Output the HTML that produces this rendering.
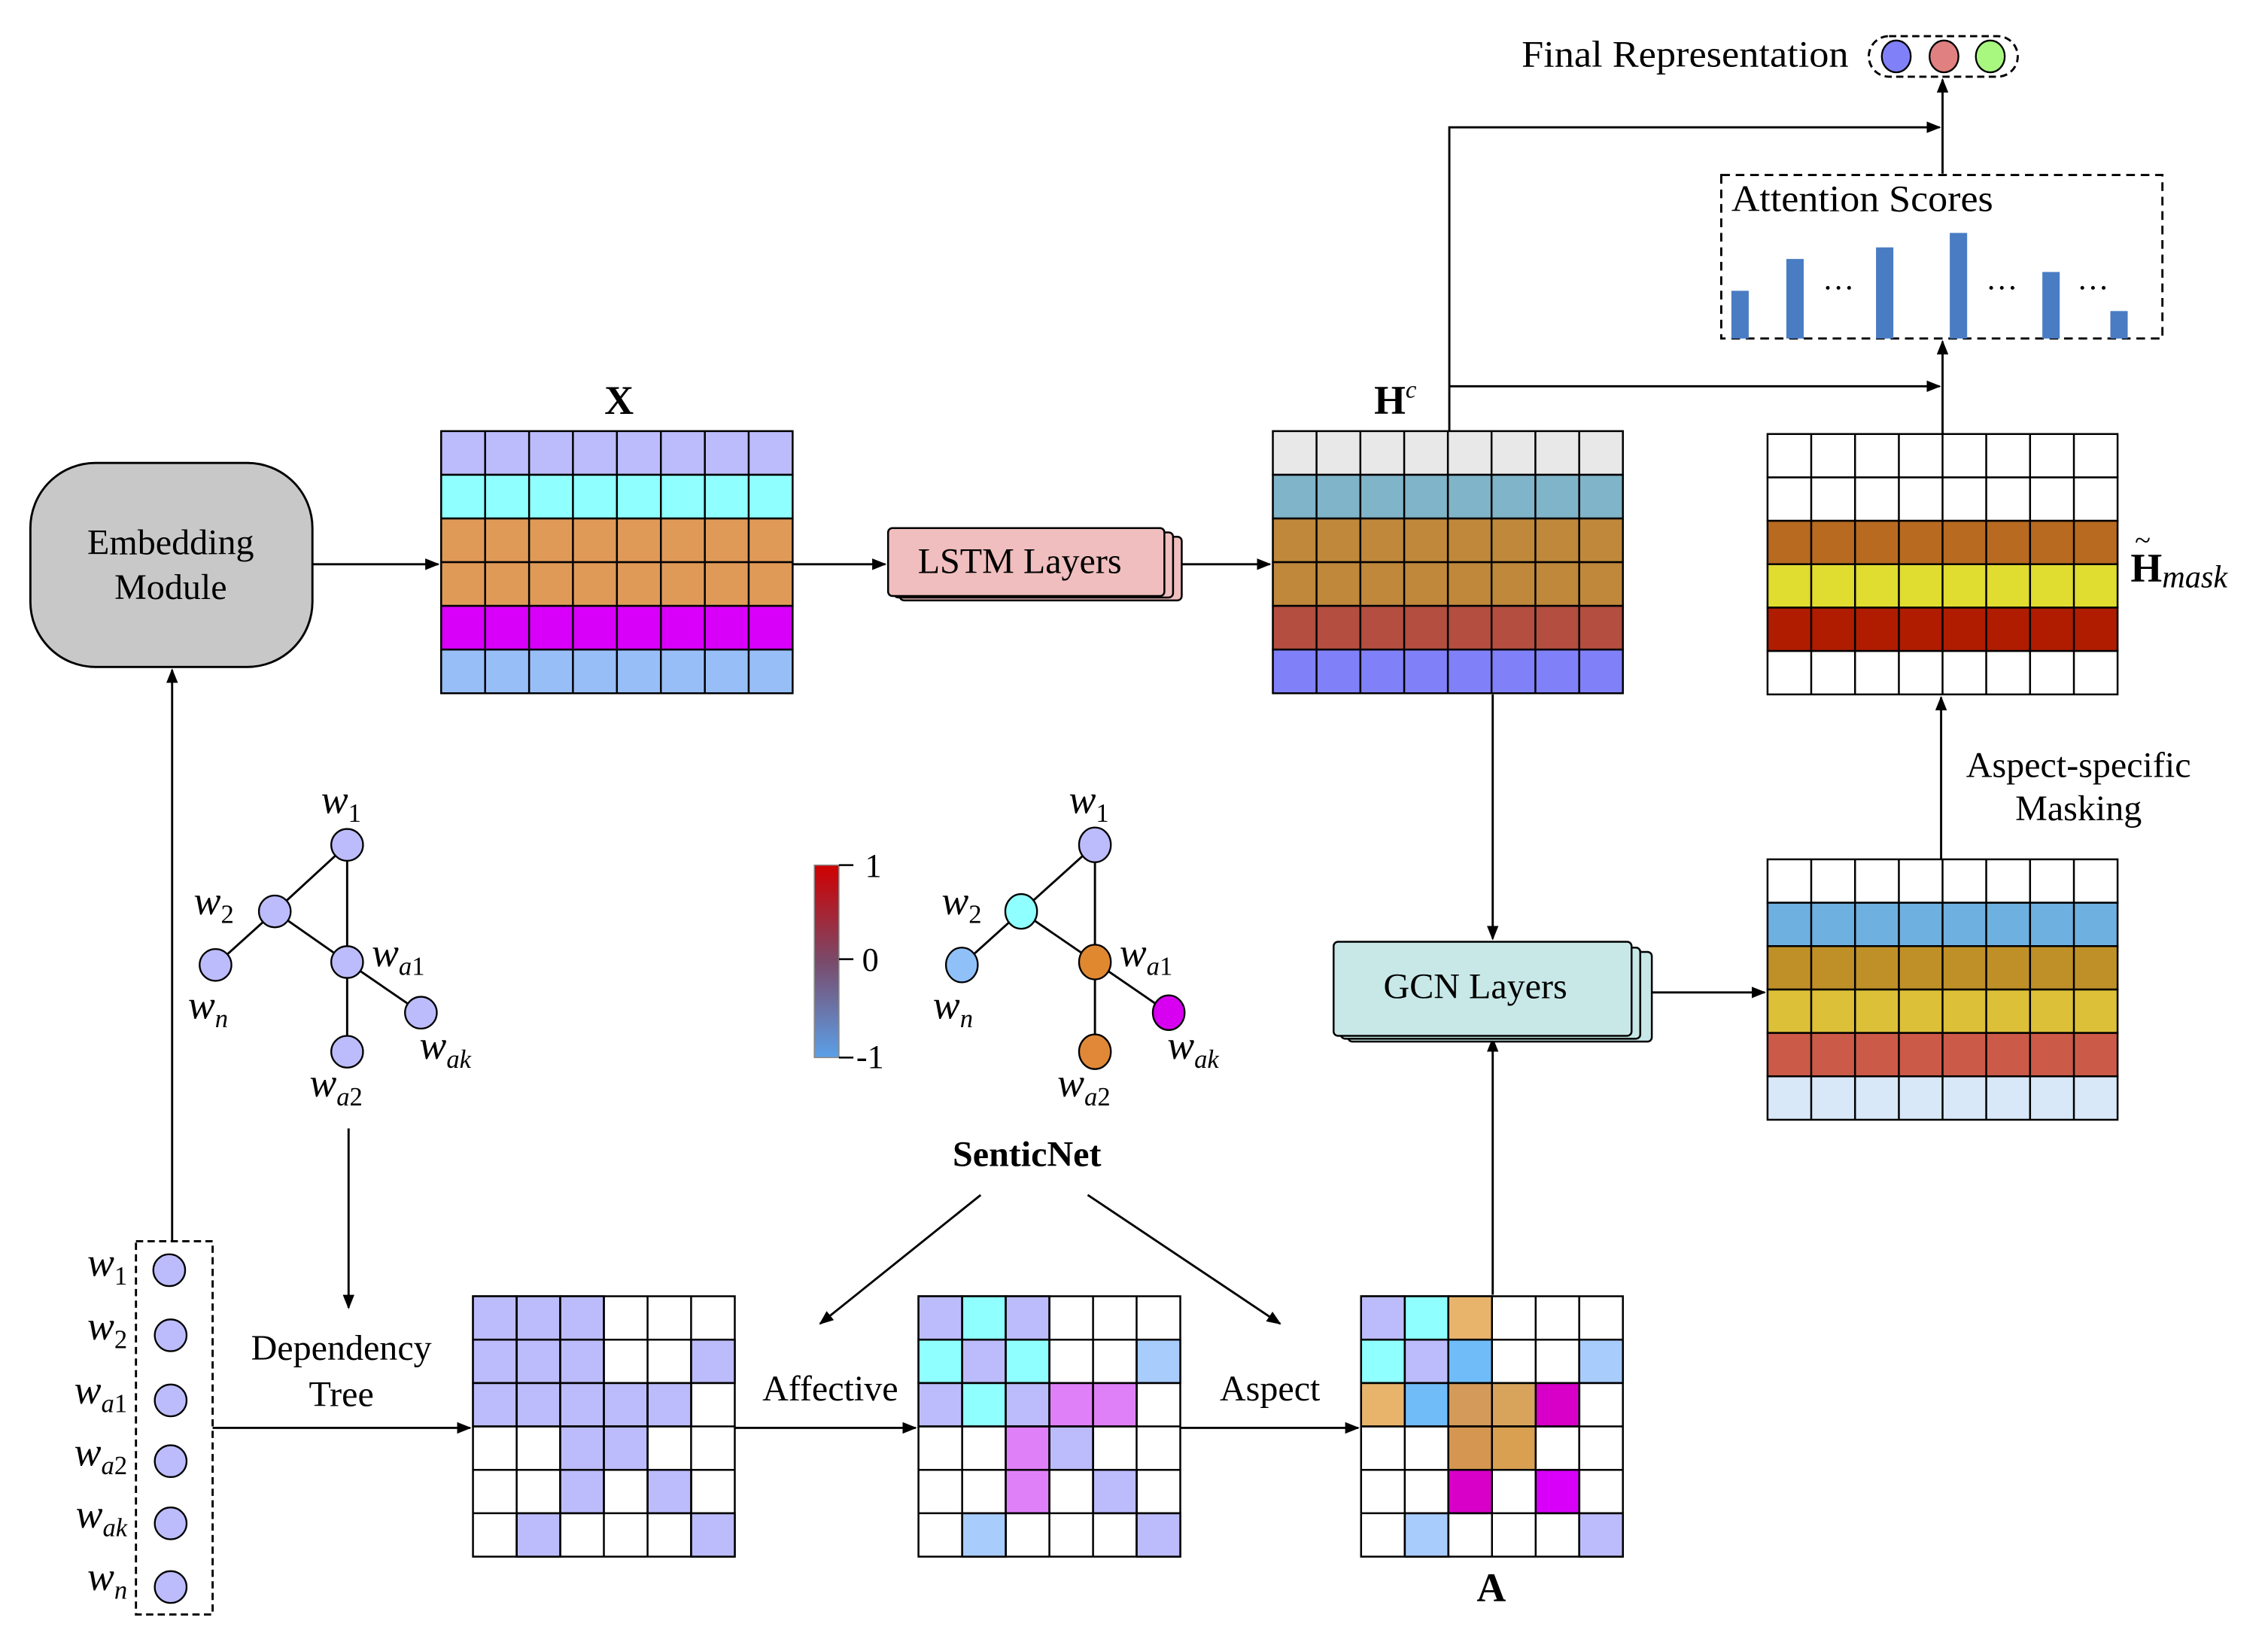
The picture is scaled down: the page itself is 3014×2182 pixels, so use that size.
<!DOCTYPE html>
<html><head><meta charset="utf-8"><style>
html,body{margin:0;padding:0;background:#fff;}
svg{display:block;}
text{font-family:"Liberation Serif",serif;fill:#000;}
.m{font-style:italic;}
</style></head><body>
<svg width="3014" height="2182" viewBox="0 0 1568 1135" preserveAspectRatio="none" xmlns="http://www.w3.org/2000/svg">
<defs>
<marker id="ar" markerWidth="10" markerHeight="8" refX="9" refY="4" orient="auto" markerUnits="userSpaceOnUse"><path d="M0,0 L10,4 L0,8 Z" fill="#000"/></marker>
<linearGradient id="cb" x1="0" y1="0" x2="0" y2="1"><stop offset="0" stop-color="#d00000"/><stop offset="0.5" stop-color="#7a4a6a"/><stop offset="1" stop-color="#5aa0e8"/></linearGradient>
</defs>
<g stroke="#000" stroke-width="1.5" fill="none">
<line x1="1343" y1="120" x2="1343" y2="55" marker-end="url(#ar)"/>
<polyline points="1002,298 1002,88 1341,88" marker-end="url(#ar)"/>
<line x1="1002" y1="267" x2="1341" y2="267" marker-end="url(#ar)"/>
<line x1="1343" y1="300" x2="1343" y2="236" marker-end="url(#ar)"/>
<line x1="216" y1="390" x2="303" y2="390" marker-end="url(#ar)"/>
<line x1="548" y1="390" x2="612" y2="390" marker-end="url(#ar)"/>
<line x1="817" y1="390" x2="878" y2="390" marker-end="url(#ar)"/>
<line x1="1342" y1="594" x2="1342" y2="482" marker-end="url(#ar)"/>
<line x1="1032" y1="480" x2="1032" y2="649" marker-end="url(#ar)"/>
<line x1="1032" y1="895" x2="1032" y2="718" marker-end="url(#ar)"/>
<line x1="1142" y1="686" x2="1220" y2="686" marker-end="url(#ar)"/>
<line x1="119" y1="858" x2="119" y2="463" marker-end="url(#ar)"/>
<line x1="241" y1="780" x2="241" y2="904" marker-end="url(#ar)"/>
<line x1="147" y1="987" x2="325" y2="987" marker-end="url(#ar)"/>
<line x1="508" y1="987" x2="633" y2="987" marker-end="url(#ar)"/>
<line x1="816" y1="987" x2="939" y2="987" marker-end="url(#ar)"/>
<line x1="678" y1="826" x2="567" y2="915" marker-end="url(#ar)"/>
<line x1="752" y1="826" x2="885" y2="915" marker-end="url(#ar)"/>
</g>

<text x="1052" y="46" font-size="26" textLength="226" lengthAdjust="spacingAndGlyphs">Final Representation</text>
<rect x="1292" y="25" width="103" height="28" rx="14" fill="none" stroke="#000" stroke-width="1.5" stroke-dasharray="5,3"/>
<g stroke="#000" stroke-width="1.2">
<ellipse cx="1311" cy="39" rx="10" ry="11" fill="#8080f8"/>
<ellipse cx="1344" cy="39" rx="10" ry="11" fill="#e08080"/>
<ellipse cx="1376" cy="39" rx="10" ry="11" fill="#a8f880"/>
</g>

<rect x="1190" y="121" width="305" height="113" fill="none" stroke="#000" stroke-width="1.5" stroke-dasharray="6,4"/>
<text x="1197" y="146" font-size="26" textLength="181" lengthAdjust="spacingAndGlyphs">Attention Scores</text>
<g fill="#4a7cc4">
<rect x="1197" y="201" width="12" height="33"/>
<rect x="1235" y="179" width="12" height="55"/>
<rect x="1297" y="171" width="12" height="63"/>
<rect x="1348" y="161" width="12" height="73"/>
<rect x="1412" y="188" width="12" height="46"/>
<rect x="1459" y="215" width="12" height="19"/>
</g>
<text x="1260" y="200" font-size="22">…</text>
<text x="1373" y="200" font-size="22">…</text>
<text x="1436" y="200" font-size="22">…</text>

<rect x="21" y="320" width="195" height="141" rx="45" fill="#c8c8c8" stroke="#000" stroke-width="1.5"/>
<text x="118" y="383" font-size="25" text-anchor="middle">Embedding</text>
<text x="118" y="414" font-size="25" text-anchor="middle">Module</text>

<g stroke="#000" stroke-width="1.3">
<rect x="622" y="371" width="195" height="44" rx="3" fill="#f0bebe"/>
<rect x="618" y="368" width="193" height="45" rx="3" fill="#f0bebe"/>
<rect x="614" y="365" width="191" height="47" rx="3" fill="#f0bebe"/>
</g>
<text x="705" y="396" font-size="25" text-anchor="middle">LSTM Layers</text>

<g stroke="#000" stroke-width="1.3">
<rect x="932" y="658" width="210" height="62" rx="3" fill="#c8e8e8"/>
<rect x="927" y="655" width="207" height="63" rx="3" fill="#c8e8e8"/>
<rect x="922" y="651" width="206" height="65" rx="3" fill="#c8e8e8"/>
</g>
<text x="1020" y="690" font-size="25" text-anchor="middle">GCN Layers</text>

<g stroke="#000" stroke-width="1.3">
<rect x="305" y="298" width="243" height="30.2" fill="#bcbcfc"/>
<rect x="305" y="328.2" width="243" height="30.2" fill="#90ffff"/>
<rect x="305" y="358.4" width="243" height="30.2" fill="#e09a58"/>
<rect x="305" y="388.6" width="243" height="30.2" fill="#e09a58"/>
<rect x="305" y="418.8" width="243" height="30.2" fill="#d800f8"/>
<rect x="305" y="449" width="243" height="30.2" fill="#98bef8"/>
<rect x="880" y="298" width="242" height="30.2" fill="#e8e8e8"/>
<rect x="880" y="328.2" width="242" height="30.2" fill="#80b4c8"/>
<rect x="880" y="358.4" width="242" height="30.2" fill="#bf883a"/>
<rect x="880" y="388.6" width="242" height="30.2" fill="#bf883a"/>
<rect x="880" y="418.8" width="242" height="30.2" fill="#b34e40"/>
<rect x="880" y="449" width="242" height="30.2" fill="#8080f8"/>
<rect x="1222" y="300" width="242" height="30" fill="#fff"/>
<rect x="1222" y="330" width="242" height="30" fill="#fff"/>
<rect x="1222" y="360" width="242" height="30" fill="#b86a20"/>
<rect x="1222" y="390" width="242" height="30" fill="#e0dc30"/>
<rect x="1222" y="420" width="242" height="30" fill="#b01c00"/>
<rect x="1222" y="450" width="242" height="30" fill="#fff"/>
<rect x="1222" y="594" width="242" height="30" fill="#fff"/>
<rect x="1222" y="624" width="242" height="30" fill="#6eb0e0"/>
<rect x="1222" y="654" width="242" height="30" fill="#c09028"/>
<rect x="1222" y="684" width="242" height="30" fill="#dcc038"/>
<rect x="1222" y="714" width="242" height="30" fill="#cc5a48"/>
<rect x="1222" y="744" width="242" height="30" fill="#d8e8f8"/>
</g>
<g stroke="#000" stroke-width="1.3">
<path d="M335.4,298V479M365.8,298V479M396.1,298V479M426.5,298V479M456.9,298V479M487.3,298V479M517.6,298V479"/>
<path d="M910.2,298V479M940.5,298V479M970.8,298V479M1001,298V479M1031.2,298V479M1061.5,298V479M1091.8,298V479"/>
<path d="M1252.2,300V480M1282.5,300V480M1312.8,300V480M1343,300V480M1373.2,300V480M1403.5,300V480M1433.8,300V480"/>
<path d="M1252.2,594V774M1282.5,594V774M1312.8,594V774M1343,594V774M1373.2,594V774M1403.5,594V774M1433.8,594V774"/>
</g>
<text x="428" y="286" font-size="28" font-weight="bold" text-anchor="middle">X</text>
<text x="950" y="286" font-size="28" font-weight="bold">H<tspan font-size="17" font-style="italic" font-weight="normal" dy="-11">c</tspan></text>
<text x="1473" y="402" font-size="28" font-weight="bold">H<tspan font-size="22" font-style="italic" font-weight="normal" dy="4">mask</tspan></text>
<text x="1476" y="380" font-size="20">~</text>
<text x="1437" y="537" font-size="25" text-anchor="middle">Aspect-specific</text>
<text x="1437" y="567" font-size="25" text-anchor="middle">Masking</text>

<g stroke="#000" stroke-width="1.3">
<g transform="translate(327,896)">
<rect width="181" height="180" fill="#fff"/>
<g fill="#bcbcfc">
<rect x="0" y="0" width="30.2" height="30"/><rect x="30.2" y="0" width="30.2" height="30"/><rect x="60.3" y="0" width="30.2" height="30"/>
<rect x="0" y="30" width="30.2" height="30"/><rect x="30.2" y="30" width="30.2" height="30"/><rect x="60.3" y="30" width="30.2" height="30"/><rect x="150.8" y="30" width="30.2" height="30"/>
<rect x="0" y="60" width="30.2" height="30"/><rect x="30.2" y="60" width="30.2" height="30"/><rect x="60.3" y="60" width="30.2" height="30"/><rect x="90.5" y="60" width="30.2" height="30"/><rect x="120.7" y="60" width="30.2" height="30"/>
<rect x="60.3" y="90" width="30.2" height="30"/><rect x="90.5" y="90" width="30.2" height="30"/>
<rect x="60.3" y="120" width="30.2" height="30"/><rect x="120.7" y="120" width="30.2" height="30"/>
<rect x="30.2" y="150" width="30.2" height="30"/><rect x="150.8" y="150" width="30.2" height="30"/>
</g>
<path d="M30.2,0V180M60.3,0V180M90.5,0V180M120.7,0V180M150.8,0V180M0,30H181M0,60H181M0,90H181M0,120H181M0,150H181" fill="none"/>
</g>
<g transform="translate(635,896)">
<rect width="181" height="180" fill="#fff"/>
<rect x="0" y="0" width="30.2" height="30" fill="#bcbcfc"/><rect x="30.2" y="0" width="30.2" height="30" fill="#90ffff"/><rect x="60.3" y="0" width="30.2" height="30" fill="#bcbcfc"/>
<rect x="0" y="30" width="30.2" height="30" fill="#90ffff"/><rect x="30.2" y="30" width="30.2" height="30" fill="#bcbcfc"/><rect x="60.3" y="30" width="30.2" height="30" fill="#90ffff"/><rect x="150.8" y="30" width="30.2" height="30" fill="#a8ccfc"/>
<rect x="0" y="60" width="30.2" height="30" fill="#bcbcfc"/><rect x="30.2" y="60" width="30.2" height="30" fill="#90ffff"/><rect x="60.3" y="60" width="30.2" height="30" fill="#bcbcfc"/><rect x="90.5" y="60" width="30.2" height="30" fill="#e080f8"/><rect x="120.7" y="60" width="30.2" height="30" fill="#e080f8"/>
<rect x="60.3" y="90" width="30.2" height="30" fill="#e080f8"/><rect x="90.5" y="90" width="30.2" height="30" fill="#bcbcfc"/>
<rect x="60.3" y="120" width="30.2" height="30" fill="#e080f8"/><rect x="120.7" y="120" width="30.2" height="30" fill="#bcbcfc"/>
<rect x="30.2" y="150" width="30.2" height="30" fill="#a8ccfc"/><rect x="150.8" y="150" width="30.2" height="30" fill="#bcbcfc"/>
<path d="M30.2,0V180M60.3,0V180M90.5,0V180M120.7,0V180M150.8,0V180M0,30H181M0,60H181M0,90H181M0,120H181M0,150H181" fill="none"/>
</g>
<g transform="translate(941,896)">
<rect width="181" height="180" fill="#fff"/>
<rect x="0" y="0" width="30.2" height="30" fill="#bcbcfc"/><rect x="30.2" y="0" width="30.2" height="30" fill="#90ffff"/><rect x="60.3" y="0" width="30.2" height="30" fill="#e8b46c"/>
<rect x="0" y="30" width="30.2" height="30" fill="#90ffff"/><rect x="30.2" y="30" width="30.2" height="30" fill="#bcbcfc"/><rect x="60.3" y="30" width="30.2" height="30" fill="#70bcf8"/><rect x="150.8" y="30" width="30.2" height="30" fill="#a8ccfc"/>
<rect x="0" y="60" width="30.2" height="30" fill="#e8b46c"/><rect x="30.2" y="60" width="30.2" height="30" fill="#70bcf8"/><rect x="60.3" y="60" width="30.2" height="30" fill="#d49a5a"/><rect x="90.5" y="60" width="30.2" height="30" fill="#d8a45c"/><rect x="120.7" y="60" width="30.2" height="30" fill="#d800c8"/>
<rect x="60.3" y="90" width="30.2" height="30" fill="#d49650"/><rect x="90.5" y="90" width="30.2" height="30" fill="#d8a050"/>
<rect x="60.3" y="120" width="30.2" height="30" fill="#d800c8"/><rect x="120.7" y="120" width="30.2" height="30" fill="#d800f8"/>
<rect x="30.2" y="150" width="30.2" height="30" fill="#a8ccfc"/><rect x="150.8" y="150" width="30.2" height="30" fill="#bcbcfc"/>
<path d="M30.2,0V180M60.3,0V180M90.5,0V180M120.7,0V180M150.8,0V180M0,30H181M0,60H181M0,90H181M0,120H181M0,150H181" fill="none"/>
</g>
</g>
<text x="574" y="968" font-size="25" text-anchor="middle">Affective</text>
<text x="878" y="968" font-size="25" text-anchor="middle">Aspect</text>
<text x="1031" y="1107" font-size="28" font-weight="bold" text-anchor="middle">A</text>
<text x="236" y="940" font-size="25" text-anchor="middle">Dependency</text>
<text x="236" y="972" font-size="25" text-anchor="middle">Tree</text>

<g stroke="#000" stroke-width="1.5">
<path d="M240,584L190,630M240,584V665M190,630L149,667M190,630L240,665M240,665L291,700M240,665V727" fill="none"/>
<g fill="#bcbcfc" stroke-width="1.2">
<ellipse cx="240" cy="584" rx="11" ry="11"/><ellipse cx="190" cy="630" rx="11" ry="11"/><ellipse cx="149" cy="667" rx="11" ry="11"/>
<ellipse cx="240" cy="665" rx="11" ry="11"/><ellipse cx="291" cy="700" rx="11" ry="11"/><ellipse cx="240" cy="727" rx="11" ry="11"/>
</g>
</g>
<g font-size="28">
<text x="222" y="562" class="m">w<tspan font-size="18" font-style="normal" dy="6">1</tspan></text>
<text x="134" y="632" class="m">w<tspan font-size="18" font-style="normal" dy="6">2</tspan></text>
<text x="130" y="704" class="m">w<tspan font-size="18" dy="6">n</tspan></text>
<text x="257" y="668" class="m">w<tspan font-size="18" dy="6">a</tspan><tspan font-size="18" font-style="normal">1</tspan></text>
<text x="290" y="732" class="m">w<tspan font-size="18" dy="6">ak</tspan></text>
<text x="214" y="758" class="m">w<tspan font-size="18" dy="6">a</tspan><tspan font-size="18" font-style="normal">2</tspan></text>
</g>

<rect x="94" y="858" width="53" height="258" fill="none" stroke="#000" stroke-width="1.5" stroke-dasharray="5,3"/>
<g fill="#bcbcfc" stroke="#000" stroke-width="1.2">
<ellipse cx="117" cy="878" rx="11" ry="11"/><ellipse cx="118" cy="923" rx="11" ry="11"/><ellipse cx="118" cy="968" rx="11" ry="11"/>
<ellipse cx="118" cy="1010" rx="11" ry="11"/><ellipse cx="118" cy="1053" rx="11" ry="11"/><ellipse cx="118" cy="1097" rx="11" ry="11"/>
</g>
<g font-size="28" text-anchor="end">
<text x="88" y="882" class="m">w<tspan font-size="18" font-style="normal" dy="6">1</tspan></text>
<text x="88" y="926" class="m">w<tspan font-size="18" font-style="normal" dy="6">2</tspan></text>
<text x="88" y="970" class="m">w<tspan font-size="18" dy="6">a</tspan><tspan font-size="18" font-style="normal">1</tspan></text>
<text x="88" y="1013" class="m">w<tspan font-size="18" dy="6">a</tspan><tspan font-size="18" font-style="normal">2</tspan></text>
<text x="88" y="1056" class="m">w<tspan font-size="18" dy="6">ak</tspan></text>
<text x="88" y="1099" class="m">w<tspan font-size="18" dy="6">n</tspan></text>
</g>

<rect x="563" y="598" width="17" height="133" fill="url(#cb)" stroke="#888" stroke-width="0.8"/>
<g stroke="#000" stroke-width="1.3"><path d="M580,598H590M580,663H590M580,731H590"/></g>
<text x="598" y="606" font-size="23">1</text>
<text x="596" y="671" font-size="23">0</text>
<text x="592" y="738" font-size="23">-1</text>
<g stroke="#000" stroke-width="1.5">
<path d="M757,584L706,630M757,584V665M706,630L665,667M706,630L757,665M757,665L808,700M757,665V727" fill="none"/>
<g stroke-width="1.2">
<ellipse cx="757" cy="584" rx="11" ry="12" fill="#bcbcfc"/><ellipse cx="706" cy="630" rx="11" ry="12" fill="#90ffff"/><ellipse cx="665" cy="667" rx="11" ry="12" fill="#90c0f8"/>
<ellipse cx="757" cy="665" rx="11" ry="12" fill="#e08830"/><ellipse cx="808" cy="700" rx="11" ry="12" fill="#d800f0"/><ellipse cx="757" cy="727" rx="11" ry="12" fill="#e08838"/>
</g>
</g>
<g font-size="28">
<text x="739" y="562" class="m">w<tspan font-size="18" font-style="normal" dy="6">1</tspan></text>
<text x="651" y="632" class="m">w<tspan font-size="18" font-style="normal" dy="6">2</tspan></text>
<text x="645" y="704" class="m">w<tspan font-size="18" dy="6">n</tspan></text>
<text x="774" y="668" class="m">w<tspan font-size="18" dy="6">a</tspan><tspan font-size="18" font-style="normal">1</tspan></text>
<text x="807" y="732" class="m">w<tspan font-size="18" dy="6">ak</tspan></text>
<text x="731" y="758" class="m">w<tspan font-size="18" dy="6">a</tspan><tspan font-size="18" font-style="normal">2</tspan></text>
</g>
<text x="710" y="806" font-size="25" font-weight="bold" text-anchor="middle">SenticNet</text>
</svg>
</body></html>
